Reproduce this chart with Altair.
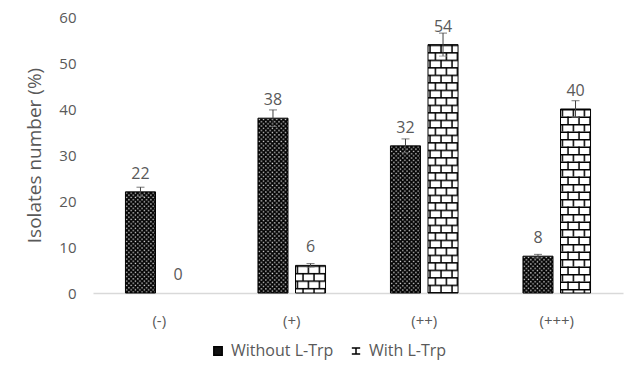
import base64
import altair as alt
import pandas as pd

# ---- data ----
categories = ["(-)", "(+)", "(++)", "(+++)"]
series_names = ["Without L-Trp", "With  L-Trp"]
without_vals = [22, 38, 32, 8]
with_vals = [0, 6, 54, 40]
without_err = [1.0, 1.8, 1.5, 0.4]
with_err = [0.0, 0.4, 2.5, 1.8]

rows = []
for i, c in enumerate(categories):
    rows.append({"cat": c, "series": series_names[0], "value": without_vals[i], "err": without_err[i]})
    rows.append({"cat": c, "series": series_names[1], "value": with_vals[i], "err": with_err[i]})
df = pd.DataFrame(rows)

# ---- fill textures (Excel-like pattern fills) ----
dots_svg = (
    "<svg xmlns='http://www.w3.org/2000/svg' width='100%' height='100%'>"
    "<defs><pattern id='p' width='4.4' height='4.4' patternUnits='userSpaceOnUse'>"
    "<rect width='4.4' height='4.4' fill='#050505'/>"
    "<rect x='0.6' y='0.6' width='1.3' height='1.3' fill='#e6e6e6'/>"
    "<rect x='2.8' y='2.8' width='1.3' height='1.3' fill='#e6e6e6'/>"
    "</pattern></defs><rect width='100%' height='100%' fill='url(#p)'/></svg>"
)
brick_svg = (
    "<svg xmlns='http://www.w3.org/2000/svg' width='100%' height='100%'>"
    "<defs><pattern id='b' width='11' height='15' patternUnits='userSpaceOnUse'>"
    "<rect width='11' height='15' fill='white'/>"
    "<line x1='0' y1='0.75' x2='11' y2='0.75' stroke='black' stroke-width='1.5'/>"
    "<line x1='0' y1='8.25' x2='11' y2='8.25' stroke='black' stroke-width='1.5'/>"
    "<line x1='2' y1='0' x2='2' y2='7.5' stroke='black' stroke-width='1.5'/>"
    "<line x1='7.5' y1='7.5' x2='7.5' y2='15' stroke='black' stroke-width='1.5'/>"
    "</pattern></defs><rect width='100%' height='100%' fill='url(#b)'/></svg>"
)
dots_uri = "data:image/svg+xml;base64," + base64.b64encode(dots_svg.encode()).decode()
brick_uri = "data:image/svg+xml;base64," + base64.b64encode(brick_svg.encode()).decode()

FONT = "Open Sans"
GRAY = "#595959"

x_enc = alt.X("cat:N", sort=categories,
              scale=alt.Scale(paddingInner=0.49, paddingOuter=0.245),
              axis=alt.Axis(title=None, labelAngle=0, ticks=False, domainColor="#d9d9d9",
                            domainWidth=1.5, labelPadding=20, labelFont=FONT, labelFontSize=15,
                            labelColor=GRAY))
xo_enc = alt.XOffset("series:N", sort=series_names, scale=alt.Scale(paddingInner=0.2, paddingOuter=0))
y_scale = alt.Scale(domain=[0, 60])

base = alt.Chart(df)

textures = base.mark_image(aspect=False).encode(
    x=x_enc,
    xOffset=xo_enc,
    y=alt.Y("value:Q", scale=y_scale,
            axis=alt.Axis(title="Isolates number (%)", values=[0, 10, 20, 30, 40, 50, 60],
                          grid=False, domain=False, ticks=False, labelPadding=17,
                          labelFont=FONT, labelFontSize=15, labelColor=GRAY,
                          titleFont=FONT, titleFontSize=19, titleFontWeight="normal",
                          titleColor=GRAY, titlePadding=14)),
    y2=alt.datum(0),
    url=alt.condition(alt.datum.series == series_names[0], alt.value(dots_uri), alt.value(brick_uri)),
)

outline = base.transform_filter(alt.datum.value > 0).mark_bar(
    fillOpacity=0, stroke="black", strokeWidth=1
).encode(
    x=x_enc, xOffset=xo_enc, y=alt.Y("value:Q", scale=y_scale),
)

err_base = base.transform_filter(alt.datum.err > 0).transform_calculate(
    lo="datum.value - datum.err", hi="datum.value + datum.err"
)
err_rule = err_base.mark_rule(color="#404040", strokeWidth=1).encode(
    x=x_enc, xOffset=xo_enc, y=alt.Y("lo:Q", scale=y_scale), y2="hi:Q"
)
cap_hi = err_base.mark_tick(orient="horizontal", size=8, thickness=1, color="#404040").encode(
    x=x_enc, xOffset=xo_enc, y=alt.Y("hi:Q", scale=y_scale)
)
cap_lo = err_base.mark_tick(orient="horizontal", size=8, thickness=1, color="#808080").encode(
    x=x_enc, xOffset=xo_enc, y=alt.Y("lo:Q", scale=y_scale)
)

labels = base.mark_text(dy=-13, baseline="alphabetic", font=FONT, fontSize=16, color=GRAY).encode(
    x=x_enc, xOffset=xo_enc, y=alt.Y("value:Q", scale=y_scale), text="value:Q"
)

leg = alt.Legend(title=None, orient="none", direction="horizontal",
                 legendX=117, legendY=326, labelFont=FONT, labelFontSize=16,
                 labelColor=GRAY, symbolSize=70, columnPadding=14, labelOffset=5)

legend_layer = base.transform_filter(alt.datum.value > 1000).mark_point(
    filled=True, stroke="black", strokeWidth=1.3, opacity=1
).encode(
    x=x_enc, y=alt.Y("value:Q", scale=y_scale),
    fill=alt.Fill("series:N", scale=alt.Scale(domain=series_names, range=["#111111", "white"]),
                  legend=leg),
    shape=alt.Shape("series:N", scale=alt.Scale(domain=series_names,
                                                range=["square", "M-1,-0.7H1M0,-0.7V0.7M-1,0.7H1"]),
                    legend=leg),
)

chart = alt.layer(textures, outline, err_rule, cap_hi, cap_lo, labels, legend_layer).properties(
    width=530, height=276,
    autosize=alt.AutoSizeParams(type="none"),
    padding={"left": 85, "top": 9, "right": 2, "bottom": 72},
    background="white",
).configure_view(stroke=None)

chart.save("out.html", embed_options={"renderer": "svg", "actions": False})
